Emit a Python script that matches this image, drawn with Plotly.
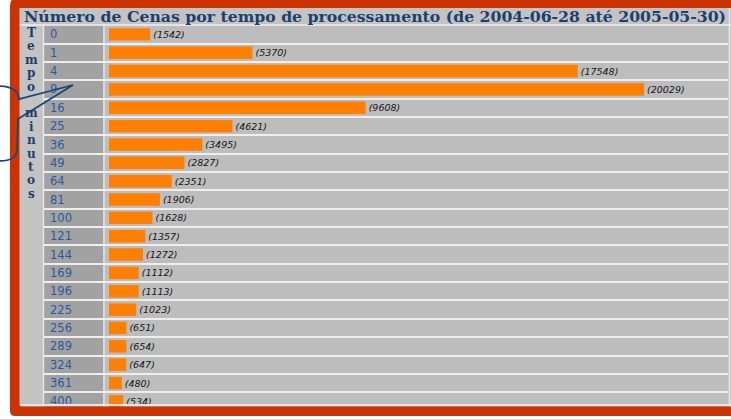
import plotly.graph_objects as go

# ---- data ----
categories = ["0", "1", "4", "9", "16", "25", "36", "49", "64", "81", "100",
              "121", "144", "169", "196", "225", "256", "289", "324", "361", "400"]
counts = [1542, 5370, 17548, 20029, 9608, 4621, 3495, 2827, 2351, 1906, 1628,
          1357, 1272, 1112, 1113, 1023, 651, 654, 647, 480, 534]
title_text = "Número de Cenas por tempo de processamento (de 2004-06-28 até 2005-05-30)"
side_label = "Tempo minutos"

W, H = 731, 419


def px(x):
    return x / W


def py(y):
    return 1 - y / H


# layout geometry (pixels)
plot_x0, plot_x1 = 44, 728
plot_y0, plot_y1 = 25.2, 412
row_h = 18.35
bar_zero_px, bar_max_px = 109, 644
scale = (bar_max_px - bar_zero_px) / max(counts)
x_range = [-(bar_zero_px - plot_x0) / scale, (plot_x1 - bar_zero_px) / scale]
y_top = -0.5
y_bottom = y_top + (plot_y1 - plot_y0) / row_h

idx = list(range(len(categories)))

fig = go.Figure()
fig.add_trace(go.Bar(
    x=counts, y=idx, orientation="h", width=0.68,
    marker=dict(color="#ff7f00", line=dict(width=0)),
    text=[f"({v})" for v in counts], textposition="outside",
    constraintext="none", cliponaxis=True,
    textfont=dict(family="DejaVu Sans", size=9.5, color="#151515", style="italic"),
    hoverinfo="skip",
))

shapes = []
# backgrounds
shapes.append(dict(type="rect", xref="paper", yref="paper", layer="below",
                   x0=px(19), x1=px(740), y0=py(412), y1=py(8),
                   fillcolor="#c3c3c3", line=dict(width=0)))
shapes.append(dict(type="rect", xref="paper", yref="paper", layer="below",
                   x0=px(plot_x0), x1=px(plot_x1), y0=py(plot_y1), y1=py(plot_y0),
                   fillcolor="#bdbdbd", line=dict(width=0)))
shapes.append(dict(type="rect", xref="paper", yref="paper", layer="below",
                   x0=px(44), x1=px(103), y0=py(plot_y1), y1=py(plot_y0),
                   fillcolor="#a2a2a2", line=dict(width=0)))
# light separator lines
for xl in (43.5, 104, 729.5):
    shapes.append(dict(type="line", xref="paper", yref="paper", layer="below",
                       x0=px(xl), x1=px(xl), y0=py(plot_y1), y1=py(plot_y0 if xl != 729.5 else 8),
                       line=dict(color="#e4e4e4", width=1.5)))
shapes.append(dict(type="line", xref="paper", yref="paper", layer="below",
                   x0=px(19), x1=px(740), y0=py(25), y1=py(25),
                   line=dict(color="#efefef", width=1.5)))
shapes.append(dict(type="line", xref="paper", yref="paper", layer="above",
                   x0=px(19), x1=px(740), y0=py(405), y1=py(405),
                   line=dict(color="#e6e6e6", width=2)))


def P(x, y):
    return f"{px(x):.5f},{py(y):.5f}"


# red frame
frame = (f"M {P(740,-2)} L {P(17,-2)} Q {P(10,-2)} {P(10,6)} L {P(10,411)} "
         f"Q {P(10,416)} {P(15,416)} L {P(740,416)} Z "
         f"M {P(19.5,8)} L {P(740,8)} L {P(740,406.5)} L {P(22,406.5)} "
         f"Q {P(19.5,406.5)} {P(19.5,404)} Z")
shapes.append(dict(type="path", xref="paper", yref="paper", layer="above",
                   path=frame, fillcolor="#cc3300", fillrule="evenodd",
                   line=dict(width=0)))
# callout outline
callout = (f"M {P(-2,86)} Q {P(18,86)} {P(19,99)} L {P(73,85)} L {P(18,119)} "
           f"L {P(17,151)} Q {P(16,161)} {P(-2,161)}")
shapes.append(dict(type="path", xref="paper", yref="paper", layer="above",
                   path=callout, line=dict(color="#1c4678", width=1.8)))

annotations = [dict(text=title_text, xref="paper", yref="paper",
                    x=px(374.5), y=py(16.5), showarrow=False,
                    xanchor="center", yanchor="middle",
                    font=dict(family="DejaVu Serif", size=15.7, color="#1d3f6e", weight="bold"))]
k = 0
for ch in side_label:
    if ch != " ":
        annotations.append(dict(text=ch, xref="paper", yref="paper",
                                x=px(31), y=py(33 + 13.4 * k), showarrow=False,
                                xanchor="center", yanchor="middle",
                                font=dict(family="DejaVu Serif", size=12,
                                          color="#1d3f6e", weight="bold")))
    k += 1

fig.update_layout(
    width=W, height=H, autosize=False,
    margin=dict(l=0, r=0, t=0, b=0, pad=0),
    paper_bgcolor="white", plot_bgcolor="rgba(0,0,0,0)",
    showlegend=False, shapes=shapes, annotations=annotations,
    xaxis=dict(domain=[px(plot_x0), px(plot_x1)], range=x_range,
               showgrid=False, zeroline=False, showticklabels=False, ticks="",
               fixedrange=True),
    yaxis=dict(domain=[py(plot_y1), py(plot_y0)], range=[y_bottom, y_top],
               tickmode="array", tickvals=idx, ticktext=categories,
               ticklabelposition="inside", ticks="", ticklabelstandoff=3,
               showgrid=False, zeroline=False, showline=False,
               tickfont=dict(family="DejaVu Sans", size=11.5, color="#2a5a9e"),
               minor=dict(tickmode="linear", tick0=0.5, dtick=1, showgrid=True,
                          gridcolor="#eeeeee", gridwidth=1.5, ticks=""),
               fixedrange=True),
)

fig.write_html("out.html", config={"displayModeBar": False},
               post_script="document.body.style.margin='0';document.body.style.overflow='hidden';")
